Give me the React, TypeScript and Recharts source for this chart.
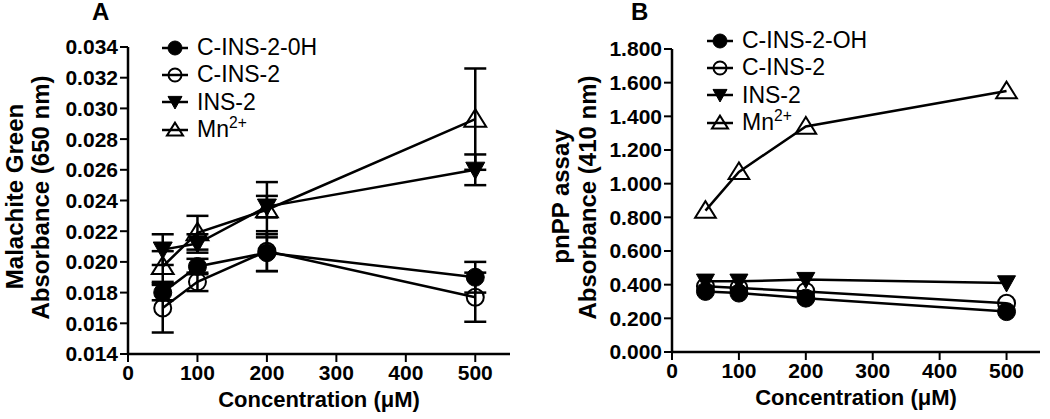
import React from "react";
import {
  LineChart,
  Line,
  XAxis,
  YAxis,
  ErrorBar,
  Legend,
} from "recharts";

const FONT = '"Liberation Sans", Arial, Helvetica, sans-serif';

// concentrations (µM)
const conc = [50, 100, 200, 500];
const xTicks = [0, 100, 200, 300, 400, 500];

// panel A - malachite green absorbance (650 nm)
const aCinsOH = [0.018, 0.0197, 0.0206, 0.019];
const aCinsOHErr = [0.0005, 0.0005, 0.0012, 0.001];
const aCins = [0.017, 0.0187, 0.0207, 0.0177];
const aCinsErr = [0.0016, 0.0006, 0.0013, 0.0016];
const aIns = [0.0208, 0.0212, 0.0236, 0.026];
const aInsErr = [0.001, 0.0006, 0.0007, 0.001];
const aMn = [0.0197, 0.0219, 0.0234, 0.0293];
const aMnErr = [0.001, 0.0011, 0.0018, 0.0033];
const aTicks = [0.014, 0.016, 0.018, 0.02, 0.022, 0.024, 0.026, 0.028, 0.03, 0.032, 0.034];

// panel B - pnPP assay absorbance (410 nm)
const bCinsOH = [0.36, 0.35, 0.32, 0.24];
const bCins = [0.39, 0.38, 0.36, 0.29];
const bIns = [0.42, 0.42, 0.43, 0.41];
const bMn = [0.84, 1.07, 1.34, 1.55];
const bTicks = [0, 0.2, 0.4, 0.6, 0.8, 1.0, 1.2, 1.4, 1.6, 1.8];

const dataA = conc.map((c, i) => ({
  conc: c,
  cinsOH: aCinsOH[i],
  cinsOHErr: aCinsOHErr[i],
  cins: aCins[i],
  cinsErr: aCinsErr[i],
  ins: aIns[i],
  insErr: aInsErr[i],
  mn: aMn[i],
  mnErr: aMnErr[i],
}));

const dataB = conc.map((c, i) => ({
  conc: c,
  cinsOH: bCinsOH[i],
  cins: bCins[i],
  ins: bIns[i],
  mn: bMn[i],
}));

type Shape = "filledCircle" | "openCircle" | "downTriangle" | "upTriangle";

const marker = (shape: Shape, cx: number, cy: number, s: number, key?: any) => {
  if (shape === "filledCircle")
    return <circle key={key} cx={cx} cy={cy} r={s} fill="#000" stroke="#000" strokeWidth={1} />;
  if (shape === "openCircle")
    return <circle key={key} cx={cx} cy={cy} r={s - 0.5} fill="none" stroke="#000" strokeWidth={2} />;
  if (shape === "downTriangle")
    return (
      <polygon
        key={key}
        points={`${cx - s},${cy - s * 0.8} ${cx + s},${cy - s * 0.8} ${cx},${cy + s}`}
        fill="#000"
        stroke="#000"
        strokeWidth={1}
      />
    );
  return (
    <polygon
      key={key}
      points={`${cx},${cy - s * 1.05} ${cx - s * 1.15},${cy + s * 0.8} ${cx + s * 1.15},${cy + s * 0.8}`}
      fill="none"
      stroke="#000"
      strokeWidth={2}
      strokeLinejoin="miter"
    />
  );
};

const dotFor = (shape: Shape, s: number) => (props: any) =>
  marker(shape, props.cx, props.cy, s, props.index);

const seriesA = [
  { key: "mn", name: "Mn", shape: "upTriangle" as Shape, err: "mnErr" },
  { key: "ins", name: "INS-2", shape: "downTriangle" as Shape, err: "insErr" },
  { key: "cins", name: "C-INS-2", shape: "openCircle" as Shape, err: "cinsErr" },
  { key: "cinsOH", name: "C-INS-2-0H", shape: "filledCircle" as Shape, err: "cinsOHErr" },
];

const legendA = ["C-INS-2-0H", "C-INS-2", "INS-2", "Mn"];
const legendB = ["C-INS-2-OH", "C-INS-2", "INS-2", "Mn"];
const legendShapes: Shape[] = ["filledCircle", "openCircle", "downTriangle", "upTriangle"];

const LegendBox = ({ labels }: { labels: string[] }) => (
  <div style={{ fontFamily: FONT, fontSize: 23, color: "#000" }}>
    {labels.map((lab, i) => (
      <div key={lab} style={{ display: "flex", alignItems: "center", height: 27.3 }}>
        <svg width={30} height={22} style={{ marginRight: 7 }}>
          <line x1={2} y1={11} x2={28} y2={11} stroke="#000" strokeWidth={2.5} />
          {marker(legendShapes[i], 15, 11, 7)}
        </svg>
        <span style={{ lineHeight: 1 }}>
          {lab === "Mn" ? (
            <>
              Mn
              <sup style={{ fontSize: "0.68em", verticalAlign: "0.55em", lineHeight: 0 }}>2+</sup>
            </>
          ) : (
            lab
          )}
        </span>
      </div>
    ))}
  </div>
);

const tickStyle = { fill: "#000", fontSize: 21, fontWeight: "bold", fontFamily: FONT };
const axisLine = { stroke: "#000", strokeWidth: 2.5 };
const tickLine = { stroke: "#000", strokeWidth: 2 };
const labelStyle = { fontFamily: FONT, fontWeight: "bold", fill: "#000" } as const;

const xLabel = (props: any) => {
  const vb = props.viewBox || {};
  return (
    <text x={vb.x + vb.width / 2} y={vb.y + 53} textAnchor="middle" fontSize={22} {...labelStyle}>
      Concentration (μM)
    </text>
  );
};

const yLabel = (l1: string, l2: string, x1: number, x2: number) => (props: any) => {
  const vb = props.viewBox || {};
  const cy = vb.y + vb.height / 2;
  return (
    <g>
      <text transform={`translate(${vb.x + x1},${cy - 4}) rotate(-90)`} textAnchor="middle" fontSize={24} {...labelStyle}>
        {l1}
      </text>
      <text transform={`translate(${vb.x + x2},${cy - 3}) rotate(-90)`} textAnchor="middle" fontSize={24} {...labelStyle}>
        {l2}
      </text>
    </g>
  );
};

const title = (t: string, left: number) => (
  <div
    style={{
      position: "absolute",
      left,
      top: 0,
      fontFamily: FONT,
      fontWeight: "bold",
      fontSize: 24,
      lineHeight: "24px",
    }}
  >
    {t}
  </div>
);

export default function App() {
  return (
    <div style={{ position: "absolute", left: 0, top: 0, width: 1050, height: 419, background: "#fff" }}>
      {title("A", 92)}
      {title("B", 631)}
      <div style={{ position: "absolute", left: 0, top: 0 }}>
        <LineChart width={520} height={419} data={dataA} margin={{ top: 47, right: 10, bottom: 0, left: 0 }}>
          <XAxis
            dataKey="conc"
            type="number"
            domain={[0, 550]}
            ticks={xTicks}
            height={65}
            tick={tickStyle}
            axisLine={axisLine}
            tickLine={tickLine}
            tickSize={8}
            tickMargin={3}
            label={{ content: xLabel }}
          />
          <YAxis
            type="number"
            domain={[0.014, 0.034]}
            ticks={aTicks}
            width={128}
            tick={tickStyle}
            axisLine={axisLine}
            tickLine={tickLine}
            tickSize={8}
            tickMargin={2}
            tickFormatter={(v: number) => v.toFixed(3)}
            label={{ content: yLabel("Malachite Green", "Absorbance (650 nm)", 23, 49) }}
          />
          <Legend
            layout="vertical"
            align="center"
            verticalAlign="middle"
            wrapperStyle={{ left: 160, top: 34, width: 260 }}
            content={() => <LegendBox labels={legendA} />}
          />
          {seriesA.map((s) => (
            <Line
              key={s.key}
              dataKey={s.key}
              name={s.name}
              stroke="#000"
              strokeWidth={2.5}
              dot={dotFor(s.shape, s.shape === "filledCircle" ? 9 : s.shape === "openCircle" ? 9 : 9.5)}
              activeDot={false}
              isAnimationActive={false}
            >
              <ErrorBar dataKey={s.err} direction="y" width={11} stroke="#000" strokeWidth={2.5} />
            </Line>
          ))}
        </LineChart>
      </div>
      <div style={{ position: "absolute", left: 520, top: 0 }}>
        <LineChart width={530} height={419} data={dataB} margin={{ top: 49, right: 10, bottom: 0, left: 0 }}>
          <XAxis
            dataKey="conc"
            type="number"
            domain={[0, 550]}
            ticks={xTicks}
            height={67}
            tick={tickStyle}
            axisLine={axisLine}
            tickLine={tickLine}
            tickSize={8}
            tickMargin={3}
            label={{ content: xLabel }}
          />
          <YAxis
            type="number"
            domain={[0, 1.8]}
            ticks={bTicks}
            width={152}
            tick={tickStyle}
            axisLine={axisLine}
            tickLine={tickLine}
            tickSize={8}
            tickMargin={2}
            tickFormatter={(v: number) => v.toFixed(3)}
            label={{ content: yLabel("pnPP assay", "Absorbance (410 nm)", 49, 76) }}
          />
          <Legend
            layout="vertical"
            align="center"
            verticalAlign="middle"
            wrapperStyle={{ left: 185, top: 27, width: 260 }}
            content={() => <LegendBox labels={legendB} />}
          />
          {seriesA.map((s) => (
            <Line
              key={s.key}
              dataKey={s.key}
              name={s.name}
              stroke="#000"
              strokeWidth={2.5}
              dot={dotFor(s.shape, 9)}
              activeDot={false}
              isAnimationActive={false}
            />
          ))}
        </LineChart>
      </div>
    </div>
  );
}
